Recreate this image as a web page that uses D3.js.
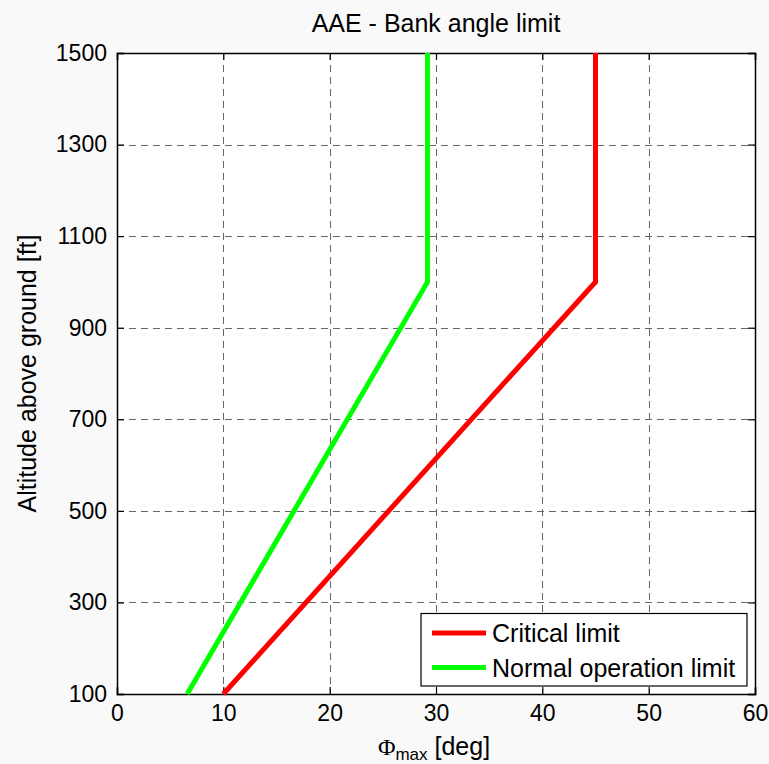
<!DOCTYPE html>
<html>
<head>
<meta charset="utf-8">
<script src="https://cdn.jsdelivr.net/npm/d3@7"></script>
<style>
  html, body { margin: 0; padding: 0; background: #f9f9f9; }
  svg { display: block; }
</style>
</head>
<body>
<svg id="chart" width="769" height="764"></svg>
<script>
// Bank angle limit versus altitude above ground
const altitudes = [100, 1000, 1500];
const criticalLimit = [10, 45, 45];
const normalLimit = [6.6, 29.2, 29.2];
const seriesNames = ["Critical limit", "Normal operation limit"];
const seriesColors = ["#ff0000", "#00ff00"];
const xTicks = [0, 10, 20, 30, 40, 50, 60];
const yTicks = [100, 300, 500, 700, 900, 1100, 1300, 1500];

const FONT = "'Liberation Sans', Arial, Helvetica, sans-serif";
const svg = d3.select("#chart").attr("font-family", FONT);
const plot = { left: 117, right: 755, top: 53, bottom: 694 };

const x = d3.scaleLinear().domain([0, 60]).range([plot.left, plot.right]);
const y = d3.scaleLinear().domain([100, 1500]).range([plot.bottom, plot.top]);

// plot background
svg.append("rect")
  .attr("x", plot.left).attr("y", plot.top)
  .attr("width", plot.right - plot.left).attr("height", plot.bottom - plot.top)
  .attr("fill", "#ffffff");

// dashed grid
const grid = svg.append("g").attr("stroke", "#666666").attr("stroke-width", 1)
  .attr("stroke-dasharray", "7,5").attr("shape-rendering", "crispEdges");
grid.selectAll(".gx").data(xTicks.slice(1, -1)).join("line")
  .attr("x1", d => Math.round(x(d)) + 0.5).attr("x2", d => Math.round(x(d)) + 0.5)
  .attr("y1", plot.top).attr("y2", plot.bottom);
grid.selectAll(".gy").data(yTicks.slice(1, -1)).join("line")
  .attr("y1", d => Math.round(y(d)) + 0.5).attr("y2", d => Math.round(y(d)) + 0.5)
  .attr("x1", plot.left).attr("x2", plot.right);

// axes with inward ticks
const tickLen = 7;
const xAxisB = d3.axisBottom(x).tickValues(xTicks).tickSize(-tickLen).tickPadding(11).tickFormat(d3.format("d"));
const xAxisT = d3.axisTop(x).tickValues(xTicks).tickSize(-tickLen).tickFormat("");
const yAxisL = d3.axisLeft(y).tickValues(yTicks).tickSize(-tickLen).tickPadding(10).tickFormat(d3.format("d"));
const yAxisR = d3.axisRight(y).tickValues(yTicks).tickSize(-tickLen).tickFormat("");

function styleAxis(g) {
  g.attr("font-family", FONT).attr("font-size", 23);
  g.select(".domain").attr("stroke", "#000").attr("stroke-width", 1.5);
  g.selectAll(".tick line").attr("stroke", "#000").attr("stroke-width", 1.2);
  g.selectAll(".tick text").attr("fill", "#000");
}

svg.append("g").attr("transform", `translate(0,${plot.bottom})`).call(xAxisB).call(styleAxis);
svg.append("g").attr("transform", `translate(0,${plot.top})`).call(xAxisT).call(styleAxis);
svg.append("g").attr("transform", `translate(${plot.left},0)`).call(yAxisL).call(styleAxis);
svg.append("g").attr("transform", `translate(${plot.right},0)`).call(yAxisR).call(styleAxis);

// data lines
const line = d3.line().x(d => x(d[1])).y(d => y(d[0]));
const series = [criticalLimit, normalLimit];
series.forEach((vals, i) => {
  svg.append("path")
    .datum(altitudes.map((a, k) => [a, vals[k]]))
    .attr("d", line)
    .attr("fill", "none")
    .attr("stroke", seriesColors[i])
    .attr("stroke-width", 5)
    .attr("stroke-linejoin", "miter");
});

// legend
const legend = svg.append("g");
legend.append("rect")
  .attr("x", 421).attr("y", 613.5).attr("width", 326).attr("height", 72.5)
  .attr("fill", "#fff").attr("stroke", "#000").attr("stroke-width", 1.2);
seriesNames.forEach((name, i) => {
  const base = 642 + i * 34.5;
  legend.append("line")
    .attr("x1", 432).attr("x2", 486).attr("y1", base - 9).attr("y2", base - 9)
    .attr("stroke", seriesColors[i]).attr("stroke-width", 5);
  legend.append("text")
    .attr("x", 492).attr("y", base)
    .attr("font-size", 25).attr("fill", "#000").text(name);
});

// title and axis labels
svg.append("text")
  .attr("x", (plot.left + plot.right) / 2).attr("y", 32)
  .attr("text-anchor", "middle").attr("font-size", 25).attr("fill", "#000")
  .text("AAE - Bank angle limit");

const xl = svg.append("text")
  .attr("x", (plot.left + plot.right) / 2 - 2).attr("y", 755)
  .attr("text-anchor", "middle").attr("font-size", 25).attr("fill", "#000");
xl.append("tspan").attr("font-family", "'Liberation Serif', 'Times New Roman', serif").attr("font-size", 24).text("Φ");
xl.append("tspan").attr("font-size", 17).attr("dy", 5).text("max");
xl.append("tspan").attr("dy", -5).text(" [deg]");

svg.append("text")
  .attr("transform", `translate(36,${(plot.top + plot.bottom) / 2}) rotate(-90)`)
  .attr("text-anchor", "middle").attr("font-size", 25).attr("fill", "#000")
  .text("Altitude above ground [ft]");
</script>
</body>
</html>
